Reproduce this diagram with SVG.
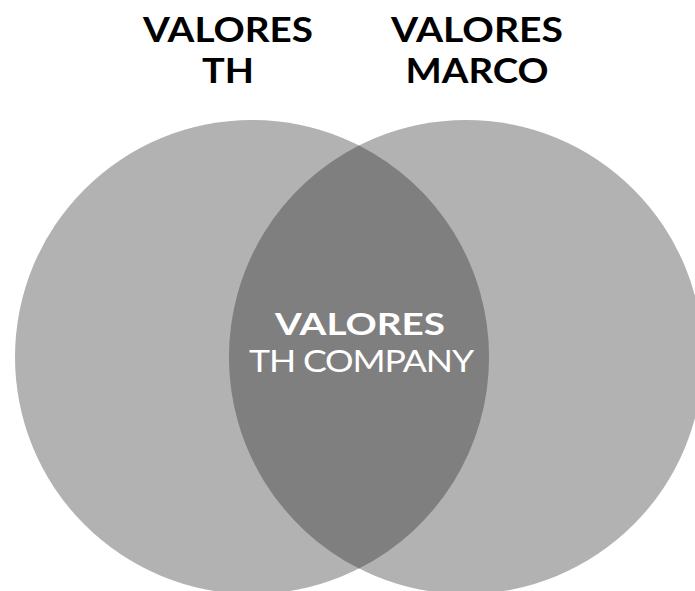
<svg xmlns="http://www.w3.org/2000/svg" width="695" height="591" viewBox="0 0 695 591">
<style>
.c{fill:#b2b2b2}
.lens{fill:#7f7f7f}
.h{font-family:Lato,"Open Sans","Liberation Sans",sans-serif;font-weight:700;font-size:34px;fill:#000;text-anchor:middle}
.w{font-family:Lato,"Open Sans","Liberation Sans",sans-serif;font-size:31px;fill:#fff;text-anchor:middle}
</style>
<rect width="695" height="591" fill="#fff"/>
<g id="circle-th"><circle class="c" cx="252" cy="357" r="237"/></g>
<g id="circle-marco"><circle class="c" cx="466" cy="357" r="237"/></g>
<g id="intersection">
<path class="lens" d="M359 145.5 A237 237 0 0 1 359 568.5 A237 237 0 0 1 359 145.5 Z"/>
<text class="w" x="360" y="335" font-weight="700" textLength="170" lengthAdjust="spacingAndGlyphs">VALORES</text>
<text class="w" x="361" y="372" font-size="32" letter-spacing="-1" textLength="224" lengthAdjust="spacingAndGlyphs">TH COMPANY</text>
</g>
<g id="label-th">
<text class="h" x="228" y="42" textLength="170" lengthAdjust="spacingAndGlyphs">VALORES</text>
<text class="h" x="228" y="83" textLength="52" lengthAdjust="spacingAndGlyphs">TH</text>
</g>
<g id="label-marco">
<text class="h" x="477" y="42" textLength="172" lengthAdjust="spacingAndGlyphs">VALORES</text>
<text class="h" x="477" y="83" textLength="143" lengthAdjust="spacingAndGlyphs">MARCO</text>
</g>
<g id="connectors"></g>
</svg>
